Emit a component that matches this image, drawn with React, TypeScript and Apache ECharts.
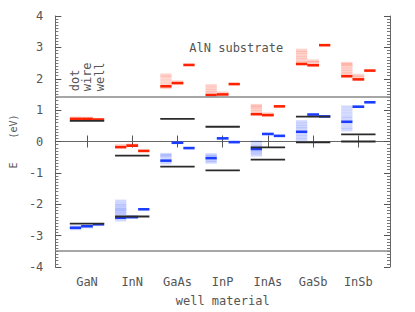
import React, { useEffect, useRef } from "react";
import * as echarts from "echarts";

const categories = ["GaN", "InN", "GaAs", "InP", "InAs", "GaSb", "InSb"];

// quantum-dot levels (first = ground state, rest = excited states)
const dotCB = [
  [0.72, 0.75],
  [-0.18, -0.13],
  [1.76, 1.72, 1.85, 1.95, 2.05, 2.12],
  [1.48, 1.55, 1.62, 1.70, 1.78],
  [0.87, 0.95, 1.03, 1.10, 1.15],
  [2.47, 2.52, 2.60, 2.68, 2.76, 2.84, 2.91],
  [2.08, 2.15, 2.22, 2.30, 2.38, 2.45, 2.49],
];
const dotVB = [
  [-2.75, -2.78, -2.72],
  [-2.43, -2.34, -2.22, -2.12, -1.99, -1.90, -2.05, -2.28, -2.50, -2.17],
  [-0.61, -0.45, -0.52, -0.68, -0.41],
  [-0.53, -0.42, -0.47, -0.60, -0.66],
  [-0.24, -0.02, -0.12, -0.18, -0.30, -0.36, -0.43],
  [0.31, 0.63, 0.55, 0.47, 0.40, 0.22, 0.14, 0.06],
  [0.63, 0.72, 0.55, 0.80, 0.90, 1.0, 1.10, 0.45, 0.37],
];
// quantum-wire levels
const wireCB = [
  [0.72, 0.74],
  [-0.13, -0.11],
  [1.86, 1.90],
  [1.50, 1.55],
  [0.84, 0.88],
  [2.43, 2.52, 2.57],
  [1.98, 2.05, 2.11],
];
const wireVB = [
  [-2.70, -2.72],
  [-2.41],
  [-0.04],
  [0.10],
  [0.24],
  [0.86, 0.82],
  [1.11],
];
// quantum-well levels
const wellCB = [0.70, -0.30, 2.44, 1.83, 1.12, 3.07, 2.26];
const wellVB = [-2.64, -2.16, -0.21, -0.02, 0.18, 0.80, 1.25];
// strained bulk band edges
const bulkCB = [0.66, -0.45, 0.72, 0.47, -0.19, 0.79, 0.23];
const bulkVB = [-2.62, -2.39, -0.80, -0.92, -0.58, -0.03, 0.0];
// AlN substrate band edges
const substrateLevels = [1.44, -3.47];

const FONT = "DejaVu Sans Mono";
const TXT = "#555";
const RED = "#ff2200";
const BLUE = "#1a3dff";

const DOT: [number, number] = [-0.38, -0.13];
const WIRE: [number, number] = [-0.13, 0.13];
const WELL: [number, number] = [0.13, 0.38];
const BULK: [number, number] = [-0.38, 0.38];

type Item = [number, number, number, number];

function levelItems(lists: number[][], span: [number, number], faded: boolean): Item[] {
  const out: Item[] = [];
  lists.forEach((levels, i) => {
    levels.forEach((e, k) => {
      if ((k === 0) !== faded) out.push([i + 1 + span[0], i + 1 + span[1], e, faded ? 0.2 : 1]);
    });
  });
  return out;
}
function singleItems(values: number[], span: [number, number]): Item[] {
  return values.map((e, i) => [i + 1 + span[0], i + 1 + span[1], e, 1] as Item);
}

function makeSeries(name: string, data: Item[], color: string, h: number, z: number) {
  return {
    type: "custom",
    name,
    z,
    encode: { x: [0, 1], y: 2 },
    data,
    renderItem: (params: any, api: any) => {
      const p0 = api.coord([api.value(0), api.value(2)]);
      const p1 = api.coord([api.value(1), api.value(2)]);
      return {
        type: "rect",
        shape: { x: p0[0], y: p0[1] - h / 2, width: p1[0] - p0[0], height: h },
        style: { fill: color, opacity: api.value(3) },
      };
    },
  };
}

export default function App() {
  const ref = useRef<HTMLDivElement>(null);
  useEffect(() => {
    if (!ref.current) return;
    const chart = echarts.init(ref.current, null, { renderer: "svg" });
    const ticks = categories.map((_, i) => i + 1);
    const axisLine = { show: true, lineStyle: { color: "#666", width: 1 } };
    const xBase = { type: "value", min: 0.3, max: 7.7, splitLine: { show: false }, axisLine };
    const yBase = {
      type: "value",
      min: -4,
      max: 4,
      interval: 1,
      splitLine: { show: false },
      axisLine,
      axisTick: { show: true, inside: true, length: 6, lineStyle: { color: "#555" } },
      minorTick: { show: true, splitNumber: 10, length: 3, lineStyle: { color: "#777" } },
    };

    const redFaded = [...levelItems(dotCB, DOT, true), ...levelItems(wireCB, WIRE, true)];
    const blueFaded = [...levelItems(dotVB, DOT, true), ...levelItems(wireVB, WIRE, true)];
    const redMain = [...levelItems(dotCB, DOT, false), ...levelItems(wireCB, WIRE, false), ...singleItems(wellCB, WELL)];
    const blueMain = [...levelItems(dotVB, DOT, false), ...levelItems(wireVB, WIRE, false), ...singleItems(wellVB, WELL)];
    const bulk = [...singleItems(bulkCB, BULK), ...singleItems(bulkVB, BULK)];

    chart.setOption({
      animation: false,
      grid: { left: 55, right: 25, top: 16, bottom: 42 },
      xAxis: [
        {
          ...xBase,
          position: "bottom",
          axisTick: { show: true, inside: true, length: 6, customValues: ticks, lineStyle: { color: "#555" } },
          axisLabel: {
            customValues: ticks,
            formatter: (v: number) => categories[Math.round(v) - 1] ?? "",
            margin: 9,
            color: TXT,
            fontFamily: FONT,
            fontSize: 12,
          },
          name: "well material",
          nameLocation: "middle",
          nameGap: 28,
          nameTextStyle: { color: TXT, fontFamily: FONT, fontSize: 12 },
        },
        {
          ...xBase,
          position: "top",
          axisTick: { show: true, inside: true, length: 6, customValues: ticks, lineStyle: { color: "#555" } },
          axisLabel: { show: false },
        },
      ],
      yAxis: [
        {
          ...yBase,
          position: "left",
          axisLabel: { margin: 12, color: TXT, fontFamily: FONT, fontSize: 12 },
          name: "E    (eV)",
          nameLocation: "middle",
          nameGap: 37,
          nameRotate: 90,
          nameTextStyle: { color: TXT, fontFamily: FONT, fontSize: 10 },
        },
        { ...yBase, position: "right", axisLabel: { show: false } },
      ],
      series: [
        {
          type: "line",
          data: [],
          markLine: {
            silent: true,
            symbol: "none",
            label: { show: false },
            lineStyle: { color: "#888", width: 1.5, type: "solid" },
            data: substrateLevels.map((v) => ({ yAxis: v })),
          },
        },
        makeSeries("cb-excited", redFaded, RED, 3, 2),
        makeSeries("vb-excited", blueFaded, BLUE, 3, 2),
        makeSeries("cb", redMain, RED, 2.6, 3),
        makeSeries("vb", blueMain, BLUE, 2.6, 3),
        makeSeries("bulk", bulk, "#2a2a2a", 1.8, 4),
      ],
    });

    const px = (x: number, y: number) => chart.convertToPixel({ xAxisIndex: 0, yAxisIndex: 0 }, [x, y]) as number[];
    const sub = px(4.3, 2.97);
    const colLabels = [
      { t: "dot", x: 0.74 },
      { t: "wire", x: 1.01 },
      { t: "well", x: 1.29 },
    ];
    chart.setOption({
      graphic: [
        {
          type: "text",
          x: sub[0],
          y: sub[1],
          style: { text: "AlN substrate", fill: TXT, font: `12px "${FONT}"`, align: "center", verticalAlign: "middle" },
        },
        ...colLabels.map((c) => {
          const p = px(c.x, 1.6);
          return {
            type: "text",
            x: p[0],
            y: p[1],
            rotation: Math.PI / 2,
            style: { text: c.t, fill: TXT, font: `12px "${FONT}"`, align: "left", verticalAlign: "middle" },
          };
        }),
      ],
    });
    return () => chart.dispose();
  }, []);
  return <div ref={ref} style={{ position: "absolute", left: 0, top: 0, width: 415, height: 312 }} />;
}
